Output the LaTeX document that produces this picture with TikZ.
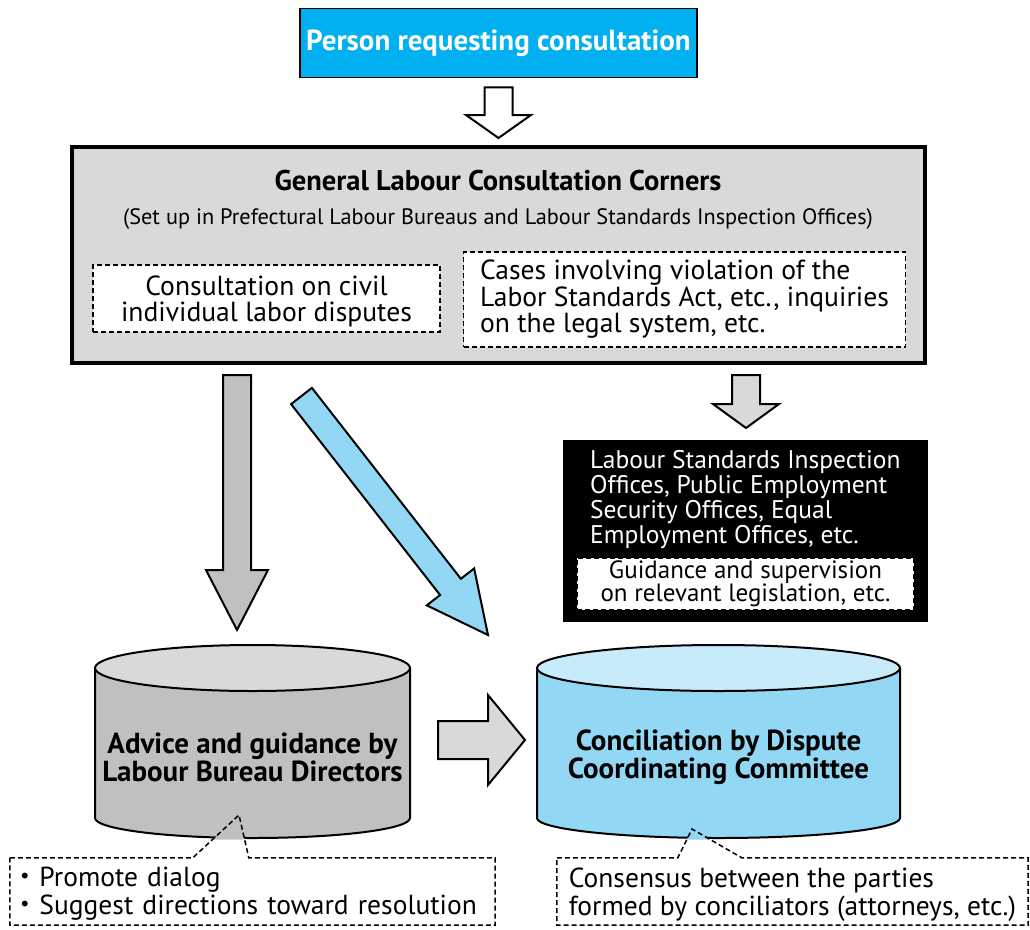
\documentclass[tikz,border=0pt]{standalone}
\usepackage{fontspec}
\setmainfont{PT Sans}
\newfontfamily\jpfont{Noto Sans CJK JP}
\usetikzlibrary{calc,positioning}
\definecolor{reqblue}{HTML}{00B0F0}
\definecolor{panelgray}{HTML}{D9D9D9}
\definecolor{midgray}{HTML}{C0C0C0}
\definecolor{skyblue}{HTML}{92D8F4}
\definecolor{paleblue}{HTML}{C8EBFA}
\tikzset{
  reqbox/.style ={draw,line width=1.5pt,fill=reqblue,text=white,minimum width=397pt,minimum height=69pt,
                  font=\bfseries\fontsize{29}{30}\selectfont},
  panel/.style  ={draw,line width=4pt,fill=panelgray,minimum width=853pt,minimum height=216pt},
  dbox/.style   ={draw,fill=white,line width=1.5pt,dash pattern=on 5pt off 3pt,inner sep=0pt},
  body/.style   ={font=\fontsize{27.6}{26.5}\selectfont},
  cyltext/.style={align=center,inner sep=0pt,font=\bfseries\fontsize{29}{28}\selectfont},
  cyl/.style    ={draw,line width=2pt},
  tips/.style   ={inner sep=0pt,minimum height=67pt,align=left,
                  font=\fontsize{27.5}{28}\selectfont},
  callout/.style={draw,line width=1.5pt,dash pattern=on 5pt off 3pt,line join=miter},
  fat/.style n args={3}{line width=2pt,to path={
      ($(\tikztotarget)!#3!(\tikztostart)$) coordinate (fat-h)
      ($(\tikztostart)!#1!90:(\tikztotarget)$) -- ($(fat-h)!#1!90:(\tikztotarget)$)
      -- ($(fat-h)!#2!90:(\tikztotarget)$) -- (\tikztotarget)
      -- ($(fat-h)!#2!-90:(\tikztotarget)$) -- ($(fat-h)!#1!-90:(\tikztotarget)$)
      -- ($(\tikztostart)!#1!-90:(\tikztotarget)$) -- cycle}},
}
\begin{document}
\begin{tikzpicture}[x=1pt,y=-1pt]
  \useasboundingbox (0,0) rectangle (1030,929);
  % who asks
  \node[reqbox] (req) at (498.5,43) {Person requesting consultation};
  % consultation corners
  \node[panel] (panel) at (498.5,255) {};
  \node[font=\bfseries\fontsize{28.5}{30}\selectfont] (ptitle) at (498,181) {General Labour Consultation Corners};
  \node[font=\fontsize{22.3}{24}\selectfont] (psub) at (498,219)
    {(Set up in Prefectural Labour Bureaus and Labour Standards Inspection Offices)};
  \node[dbox,body,align=center,minimum width=347pt,minimum height=67pt,text depth=0pt] (civil) at (266.5,298.5)
    {Consultation on civil\\individual labor disputes};
  \node[dbox,body,align=left,minimum width=442pt,minimum height=95pt] (viol) at (684.5,299.5)
    {Cases involving violation of the\\Labor Standards Act, etc., inquiries\\on the legal system, etc.};
  % offices
  \node[fill=black,minimum width=365pt,minimum height=182pt] (office) at (745.5,531) {};
  \node[anchor=north west,inner sep=0pt,align=left,text=white,font=\fontsize{25.5}{25}\selectfont] (offtext) at (590,450)
    {Labour Standards Inspection\\Offices, Public Employment\\Security Offices, Equal\\Employment Offices, etc.};
  \node[dbox,align=center,minimum width=337pt,minimum height=52pt,font=\fontsize{25}{23}\selectfont] (guide) at (745.5,584)
    {Guidance and supervision\\on relevant legislation, etc.};
  % cylinders
  \fill[midgray] (95,668) -- (95,818) arc[start angle=180,end angle=360,x radius=157.5pt,y radius=20pt] -- (410,668) -- cycle;
  \draw[cyl] (95,668) -- (95,818) arc[start angle=180,end angle=360,x radius=157.5pt,y radius=20pt] -- (410,668);
  \draw[cyl,fill=panelgray] (252.5,668) ellipse[x radius=157.5pt,y radius=23pt];
  \fill[skyblue] (537,668) -- (537,818) arc[start angle=180,end angle=360,x radius=181.5pt,y radius=20pt] -- (900,668) -- cycle;
  \draw[cyl] (537,668) -- (537,818) arc[start angle=180,end angle=360,x radius=181.5pt,y radius=20pt] -- (900,668);
  \draw[cyl,fill=paleblue] (718.5,668) ellipse[x radius=181.5pt,y radius=23pt];
  \node[cyltext] (advice) at (252.5,757) {Advice and guidance by\\Labour Bureau Directors};
  \node[cyltext] (concil) at (718.5,757) {Conciliation by Dispute\\Coordinating Committee};
  % arrows
  \coordinate (dg-top) at (237,375);   \coordinate (dg-tip) at (237,630);
  \coordinate (bl-top) at (301.5,396); \coordinate (bl-tip) at (488,635);
  \coordinate (sg-top) at (746,375);   \coordinate (sg-tip) at (746,428);
  \coordinate (rg-top) at (438,740);   \coordinate (rg-tip) at (525,740);
  \draw[fat={14pt}{32.5pt}{23pt},fill=white] ([yshift=-9pt]req.south) to ([yshift=7pt]panel.north);
  \draw[fat={14pt}{31pt}{60pt},fill=midgray] (dg-top) to (dg-tip);
  \draw[fat={13.2pt}{30pt}{61pt},fill=skyblue] (bl-top) to (bl-tip);
  \draw[fat={14pt}{33pt}{24pt},fill=panelgray] (sg-top) to (sg-tip);
  \draw[fat={19pt}{45pt}{37pt},fill=panelgray] (rg-top) to (rg-tip);
  % callouts
  \node[tips,text width=481pt,inner xsep=2pt,text depth=29pt] (tipsL) at (252.5,891.5)
    {{\jpfont ・}Promote dialog\\{\jpfont ・}Suggest directions toward resolution};
  \node[tips,minimum width=471pt,text depth=0pt] (tipsR) at (792.5,891.5)
    {Consensus between the parties\\formed by conciliators (attorneys, etc.)};
  \coordinate (apexL) at (239,815);
  \coordinate (apexR) at (692,829);
  \fill[midgray] (apexL) -- (213.3,839.5) -- (244.6,839.5) -- cycle;
  \fill[skyblue] (apexR) -- (686.9,839.5) -- (710.1,839.5) -- cycle;
  \draw[callout] (tipsL.north west) -- ($(tipsL.north west)+(183,0)$) -- (apexL)
    -- ($(tipsL.north west)+(239,0)$) -- (tipsL.north east) -- (tipsL.south east)
    -- (tipsL.south west) -- cycle;
  \draw[callout] (tipsR.north west) -- ($(tipsR.north west)+(121,0)$) -- (apexR)
    -- ($(tipsR.north west)+(185,0)$) -- (tipsR.north east) -- (tipsR.south east)
    -- (tipsR.south west) -- cycle;
\end{tikzpicture}
\end{document}
